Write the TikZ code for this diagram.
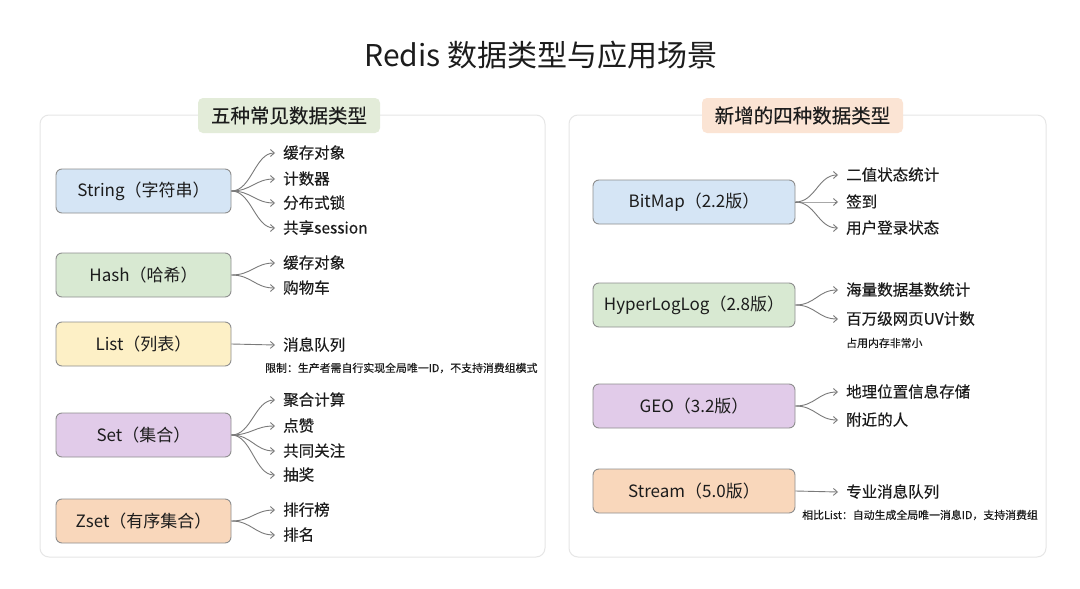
\documentclass[tikz,border=0pt]{standalone}
\usepackage{fontspec}
\usetikzlibrary{arrows.meta}
\setmainfont{Noto Sans CJK SC}
\newfontfamily\medf{Noto Sans CJK SC}[FakeBold=0.35]
\definecolor{ink}{HTML}{1C1C1C}
\definecolor{panelc}{HTML}{E6E6E6}
\definecolor{boxline}{HTML}{8E8E8E}
\definecolor{arrc}{HTML}{7A7A7A}
\definecolor{cblue}{HTML}{D5E5F5}
\definecolor{cgreen}{HTML}{D8E9D2}
\definecolor{cyellow}{HTML}{FDF0C6}
\definecolor{cpurple}{HTML}{E1CBE9}
\definecolor{cpeach}{HTML}{F9D7BB}
\definecolor{hgreen}{HTML}{E3ECD9}
\definecolor{hpeach}{HTML}{FBE4D4}
\begin{document}
\begin{tikzpicture}[x=1pt,y=-1pt,
  panel/.style={draw=panelc,line width=1pt,rounded corners=9pt,fill=white,inner sep=0pt},
  header/.style={rounded corners=5pt,inner sep=0pt,minimum height=35pt,font=\medf\fontsize{19.5}{22}\selectfont,text=ink},
  tbox/.style={draw=boxline,line width=0.9pt,rounded corners=6pt,minimum height=44pt,inner sep=0pt,font=\fontsize{17}{20}\selectfont,text=ink},
  item/.style={anchor=west,inner xsep=8pt,inner ysep=0pt,font=\medf\fontsize{15.5}{18}\selectfont,text=ink,text height=13pt,text depth=2pt},
  note/.style={anchor=west,inner sep=0pt,font=\medf\fontsize{10.9}{13}\selectfont,text=ink},
  arr/.style={draw=arrc,line width=0.9pt,-{Straight Barb[length=4pt,width=7pt]}}]
\useasboundingbox[fill=white] (0,0) rectangle (1080,589);

\node[font=\fontsize{30}{34}\selectfont,text=ink] (title) at (541,55) {Redis 数据类型与应用场景};

% panels
\node[panel,minimum width=505pt,minimum height=442pt] (lp) at (292.5,336) {};
\node[panel,minimum width=477pt,minimum height=442pt] (rp) at (807.5,336) {};
\node[header,fill=hgreen,minimum width=182pt] (lh) at (289,115.5) {五种常见数据类型};
\node[header,fill=hpeach,minimum width=201pt] (rh) at (802.5,115.5) {新增的四种数据类型};

% left boxes
\node[tbox,fill=cblue,minimum width=175pt] (s1) at (143.5,191) {String（字符串）};
\node[tbox,fill=cgreen,minimum width=175pt] (s2) at (143.5,275) {Hash（哈希）};
\node[tbox,fill=cyellow,minimum width=175pt] (s3) at (143.5,344) {List（列表）};
\node[tbox,fill=cpurple,minimum width=175pt] (s4) at (143.5,435) {Set（集合）};
\node[tbox,fill=cpeach,minimum width=175pt] (s5) at (143.5,521) {Zset（有序集合）};

% left items
\node[item] (s1a) at (275,153) {缓存对象};
\node[item] (s1b) at (275,179) {计数器};
\node[item] (s1c) at (275,203) {分布式锁};
\node[item] (s1d) at (275,228) {共享session};
\node[item] (s2a) at (275,263) {缓存对象};
\node[item] (s2b) at (275,288) {购物车};
\node[item] (s3a) at (275,345) {消息队列};
\node[note] (s3n) at (265,368) {限制：生产者需自行实现全局唯一ID，不支持消费组模式};
\node[item] (s4a) at (275,400) {聚合计算};
\node[item] (s4b) at (275,426) {点赞};
\node[item] (s4c) at (275,451) {共同关注};
\node[item] (s4d) at (275,475) {抽奖};
\node[item] (s5a) at (275,510) {排行榜};
\node[item] (s5b) at (275,535) {排名};

% right boxes
\node[tbox,fill=cblue,minimum width=202pt] (r1) at (694,202) {BitMap（2.2版）};
\node[tbox,fill=cgreen,minimum width=202pt] (r2) at (694,305) {HyperLogLog（2.8版）};
\node[tbox,fill=cpurple,minimum width=202pt] (r3) at (694,406) {GEO（3.2版）};
\node[tbox,fill=cpeach,minimum width=202pt] (r4) at (694,491) {Stream（5.0版）};

% right items
\node[item] (r1a) at (838,175) {二值状态统计};
\node[item] (r1b) at (838,202) {签到};
\node[item] (r1c) at (838,228) {用户登录状态};
\node[item] (r2a) at (838,290) {海量数据基数统计};
\node[item] (r2b) at (838,319) {百万级网页UV计数};
\node[note] (r2n) at (846,343) {占用内存非常小};
\node[item] (r3a) at (838,392) {地理位置信息存储};
\node[item] (r3b) at (838,420) {附近的人};
\node[item] (r4a) at (838,492) {专业消息队列};
\node[note] (r4n) at (802,515) {相比List：自动生成全局唯一消息ID，支持消费组};

% connectors
\foreach \b/\i in {s1/s1a,s1/s1b,s1/s1c,s1/s1d,s2/s2a,s2/s2b,s4/s4a,s4/s4b,s4/s4c,s4/s4d,s5/s5a,s5/s5b,r1/r1a,r1/r1b,r1/r1c,r2/r2a,r2/r2b,r3/r3a,r3/r3b}
  \draw[arr] (\b.east) .. controls +(20,0) and +(-20,0) .. (\i.west);
\draw[arr] (s3.east) -- (s3a.west);
\draw[arr] (r4.east) -- (r4a.west);
\end{tikzpicture}
\end{document}
